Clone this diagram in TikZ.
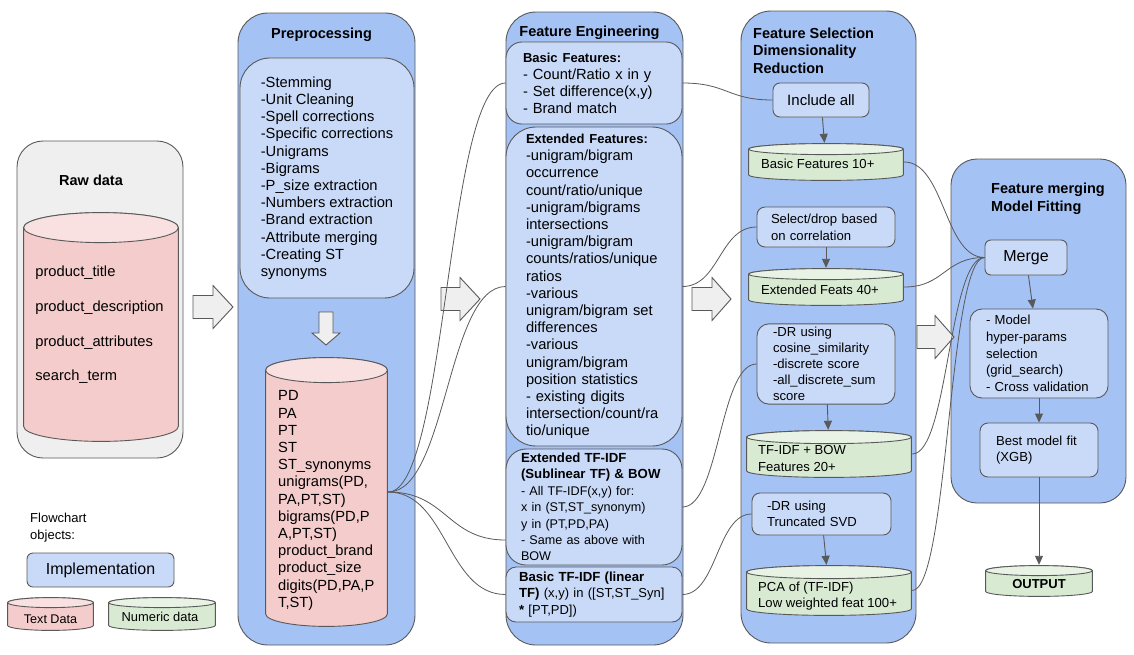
\documentclass[tikz,border=0pt]{standalone}
\usepackage{fontspec}
\setmainfont{Liberation Sans}
\usetikzlibrary{arrows.meta, calc}

\definecolor{panelblue}{HTML}{A4C2F4}
\definecolor{implblue}{HTML}{C9DAF8}
\definecolor{textred}{HTML}{F4CCCC}
\definecolor{textredtop}{HTML}{F9E1E1}
\definecolor{numgreen}{HTML}{D9EAD3}
\definecolor{numgreentop}{HTML}{E9F3E5}
\definecolor{rawgray}{HTML}{EFEFEF}
\definecolor{edgegray}{HTML}{595959}

% font sizes, 1pt = 1px of the picture
\newcommand{\fmain}{\fontsize{14.7}{17.2}\selectfont}
\newcommand{\fraw}{\fontsize{14.7}{34.6}\selectfont}
\newcommand{\fttl}{\fontsize{14.5}{17.5}\selectfont\bfseries}
\newcommand{\fhead}{\fontsize{13}{17.2}\selectfont\bfseries}
\newcommand{\fhdr}{\fontsize{13.2}{16.4}\selectfont\bfseries}
\newcommand{\fsmall}{\fontsize{13.1}{16.5}\selectfont}
\newcommand{\ftfidf}{\fontsize{12.6}{16.4}\selectfont}
\newcommand{\fbig}{\fontsize{16}{19}\selectfont}
\newcommand{\finc}{\fontsize{15}{18}\selectfont}
\newcommand{\flegend}{\fontsize{13}{17}\selectfont}
\newcommand{\ftiny}{\fontsize{12.6}{15}\selectfont}
\newcommand{\fout}{\fontsize{13}{16}\selectfont\bfseries}

\begin{document}
\begin{tikzpicture}[x=1pt, y=-1pt,
    panel/.style={rectangle, draw=edgegray, line width=0.9pt, fill=panelblue, rounded corners=28pt},
    impl/.style={rectangle, draw=edgegray, line width=0.9pt, fill=implblue, rounded corners=#1, align=left},
    impl/.default=8pt,
    title/.style={font=\fttl, inner sep=0pt, align=left},
    cyltext/.style={inner sep=0pt, align=left},
    hollow/.style={draw=edgegray, line width=0.9pt, fill=rawgray},
    conn/.style={draw=edgegray, line width=0.8pt, to path={let \p1=(\tikztostart), \p2=(\tikztotarget) in
        .. controls ({(\x1+\x2)/2},\y1) and ({(\x1+\x2)/2},\y2) .. (\tikztotarget)}},
    arrow/.style={-{Triangle[length=9pt, width=8pt]}, draw=edgegray, line width=0.9pt},
    cyl ry/.store in=\cylry, cyl body/.store in=\cylbody, cyl top/.store in=\cyltop,
    datacyl/.style={rectangle, inner sep=0pt, cyl ry=6pt,
        path picture={
            \draw[edgegray, line width=0.9pt, fill=\cylbody]
                let \p1=(path picture bounding box.north west), \p2=(path picture bounding box.south east),
                    \n1={(\x2-\x1)/2-0.6pt} in
                (\x1+0.6pt,\y1-\cylry-0.6pt) -- (\x1+0.6pt,\y2+\cylry+0.6pt)
                arc[start angle=180, end angle=360, x radius=\n1, y radius=\cylry]
                -- (\x2-0.6pt,\y1-\cylry-0.6pt)
                arc[start angle=0, end angle=180, x radius=\n1, y radius=\cylry] -- cycle;
            \draw[edgegray, line width=0.9pt, fill=\cyltop]
                let \p1=(path picture bounding box.north west), \p2=(path picture bounding box.south east),
                    \n1={(\x2-\x1)/2-0.6pt} in
                ({(\x1+\x2)/2},\y1-\cylry-0.6pt) ellipse [x radius=\n1, y radius=\cylry];
        }},
    textcyl/.style={datacyl, cyl body=textred, cyl top=textredtop},
    numcyl/.style={datacyl, cyl body=numgreen, cyl top=numgreentop},
]
\useasboundingbox (0,0) rectangle (1134,654);

% raw data
\node[panel, fill=rawgray, rounded corners=26pt, minimum width=166pt, minimum height=317pt] (rawp) at (100,299.5) {};
\node[title] (rawt) at (91,180) {Raw data};
\node[textcyl, cyl ry=15pt, minimum width=156pt, minimum height=230pt] (rawc) at (101,327) {};
\node[cyltext, font=\fraw] (rawct) at (99.5,325) {product\_title\\product\_description\\product\_attributes\\search\_term};

% preprocessing
\node[panel, rounded corners=30pt, minimum width=177pt, minimum height=632pt] (prep) at (326.5,329) {};
\node[title] (prept) at (321.5,35) {Preprocessing};
\node[impl=30pt, minimum width=174pt, minimum height=240pt, font=\fmain] (steps) at (327,178)
    {-Stemming\\-Unit Cleaning\\-Spell corrections\\-Specific corrections\\-Unigrams\\-Bigrams\\-P\_size extraction\\-Numbers extraction\\-Brand extraction\\-Attribute merging\\-Creating ST\\synonyms};
\node[textcyl, cyl ry=12.5pt, minimum width=123pt, minimum height=270pt] (prepc) at (326.5,492) {};
\node[cyltext, font=\fmain, anchor=west] (prepct) at (278,500.5)
    {PD\\PA\\PT\\ST\\ST\_synonyms\\unigrams(PD,\\PA,PT,ST)\\bigrams(PD,P\\A,PT,ST)\\product\_brand\\product\_size\\digits(PD,PA,P\\T,ST)};

% feature engineering
\node[panel, rounded corners=30pt, minimum width=177pt, minimum height=633pt] (feat) at (594.5,328.5) {};
\node[title] (featt) at (589.5,33) {Feature Engineering};
\node[impl=16pt, minimum width=176pt, minimum height=82pt, text width=142pt, inner xsep=17pt,
    font=\fontsize{14.7}{17}\selectfont] (bfe) at (594,83)
    {{\fhead Basic Features:}\\- Count/Ratio x in y\\- Set difference(x,y)\\- Brand match};
\node[impl=30pt, minimum width=176pt, minimum height=319pt, text width=136pt, inner xsep=20pt, font=\fmain] (efe) at (594,286.5)
    {{\fhead Extended Features:}\\-unigram/bigram\\occurrence\\count/ratio/unique\\-unigram/bigrams\\intersections\\-unigram/bigram\\counts/ratios/unique\\ratios\\-various\\unigram/bigram set\\differences\\-various\\unigram/bigram\\position statistics\\- existing digits\\intersection/count/ra\\tio/unique};
\node[impl=20pt, minimum width=176pt, minimum height=116pt, text width=146pt, inner xsep=15pt, font=\ftfidf] (etf) at (594,507)
    {{\fhdr Extended TF-IDF\\(Sublinear TF) \& BOW}\\- All TF-IDF(x,y) for:\\x in (ST,ST\_synonym)\\y in (PT,PD,PA)\\- Same as above with\\BOW};
\node[impl=10pt, minimum width=176pt, minimum height=55pt, text width=150pt, inner xsep=13pt, font=\fontsize{13}{16.5}\selectfont] (btf) at (594,594.5)
    {{\fhdr Basic TF-IDF (linear}\\{\fhdr TF)} (x,y) in ([ST,ST\_Syn]\\{\fhdr *} [PT,PD])};

% feature selection
\node[panel, rounded corners=30pt, minimum width=175pt, minimum height=632pt] (fsel) at (828.5,327) {};
\node[title, anchor=west] (fselt) at (753,50.5) {Feature Selection\\Dimensionality\\Reduction};
\node[impl=7pt, minimum width=96pt, minimum height=34pt, font=\finc, align=center] (incl) at (821,100) {Include all};
\node[numcyl, cyl ry=5.5pt, minimum width=156pt, minimum height=38pt] (bcyl) at (826,162) {};
\node[cyltext, font=\fsmall, anchor=west] (bcylt) at (761,164) {Basic Features 10+};
\node[impl=8pt, minimum width=138pt, minimum height=40pt, text width=110pt, inner xsep=14pt,
    font=\fontsize{13.1}{17}\selectfont] (sel) at (826,227) {Select/drop based\\on correlation};
\node[numcyl, cyl ry=5.5pt, minimum width=156pt, minimum height=38pt] (ecyl) at (826,287) {};
\node[cyltext, font=\fsmall, anchor=west] (ecylt) at (761,290) {Extended Feats 40+};
\node[impl=12pt, minimum width=138pt, minimum height=78pt, text width=106pt, inner xsep=16pt,
    font=\fontsize{13.1}{16}\selectfont] (drc) at (826,364)
    {-DR using\\cosine\_similarity\\-discrete score\\-all\_discrete\_sum\\score};
\node[numcyl, cyl ry=6.5pt, minimum width=166pt, minimum height=48pt] (tcyl) at (829,454) {};
\node[cyltext, font=\fontsize{13.1}{17}\selectfont, anchor=west] (tcylt) at (758,458.5) {TF-IDF + BOW\\Features 20+};
\node[impl=8pt, minimum width=139pt, minimum height=42pt, text width=109pt, inner xsep=15pt,
    font=\fontsize{13.1}{15.5}\selectfont] (svd) at (821.5,514) {-DR using\\Truncated SVD};
\node[numcyl, cyl ry=6.5pt, minimum width=166pt, minimum height=51pt] (pca) at (829,590.5) {};
\node[cyltext, font=\fontsize{13.1}{16}\selectfont, anchor=west] (pcat) at (758,596) {PCA of (TF-IDF)\\Low weighted feat 100+};

% merging and model fitting
\node[panel, rounded corners=26pt, minimum width=175pt, minimum height=344pt] (mfit) at (1038.5,331) {};
\node[title, anchor=west] (mfitt) at (991,199) {Feature merging\\Model Fitting};
\node[impl=6pt, minimum width=82pt, minimum height=35pt, font=\fbig, align=center] (merge) at (1026,257.5) {Merge};
\node[impl=12pt, minimum width=138pt, minimum height=89pt, text width=106pt, inner xsep=16pt,
    font=\fontsize{13.1}{16.7}\selectfont] (model) at (1039,353.5)
    {- Model\\hyper-params\\selection\\(grid\_search)\\- Cross validation};
\node[impl=8pt, minimum width=118pt, minimum height=54pt, text width=86pt, inner xsep=16pt,
    font=\fontsize{13.1}{16}\selectfont] (best) at (1039,450) {Best model fit\\(XGB)};
\node[numcyl, cyl ry=5pt, minimum width=108pt, minimum height=32pt] (out) at (1039,581) {};
\node[cyltext, font=\fout] (outt) at (1039,584) {OUTPUT};

% legend
\node[cyltext, font=\flegend, anchor=west] (legt) at (30,528) {Flowchart\\objects:};
\node[impl=6pt, minimum width=147pt, minimum height=34pt, font=\fbig, align=center] (legi) at (100.5,570) {Implementation};
\node[textcyl, cyl ry=5pt, minimum width=87pt, minimum height=34pt] (legtd) at (50.5,614) {};
\node[cyltext, font=\ftiny] (legtdt) at (50.5,619) {Text Data};
\node[numcyl, cyl ry=5pt, minimum width=108pt, minimum height=34pt] (legnd) at (162,614) {};
\node[cyltext, font=\fontsize{12.9}{15}\selectfont] (legndt) at (160,617) {Numeric data};

% hollow stage arrows
\draw[hollow] (193,295.5) -- ++(20,0) -- ++(0,-10) -- ++(20,21.5) -- ++(-20,21.5) -- ++(0,-10) -- ++(-20,0) -- cycle;
\draw[hollow] (441,287.5) -- ++(19,0) -- ++(0,-10) -- ++(20,21.5) -- ++(-20,21.5) -- ++(0,-10) -- ++(-19,0) -- cycle;
\draw[hollow] (692,287.5) -- ++(20,0) -- ++(0,-10) -- ++(19,21.5) -- ++(-19,21.5) -- ++(0,-10) -- ++(-20,0) -- cycle;
\draw[hollow] (917,325.5) -- ++(18,0) -- ++(0,-10) -- ++(19,21.5) -- ++(-19,21.5) -- ++(0,-10) -- ++(-18,0) -- cycle;
\draw[hollow] (319,312) -- ++(0,21) -- ++(-7,0) -- ++(14,12) -- ++(14,-12) -- ++(-7,0) -- ++(0,-21) -- cycle;

% curved connectors
\draw[conn] (prepc.east) to (bfe.west);
\draw[conn] (prepc.east) to (efe.west);
\draw[conn] (prepc.east) to ([yshift=-33pt]etf.west);
\draw[conn] (prepc.east) to (btf.west);
\draw[conn] (bfe.east) to (incl.west);
\draw[conn] (efe.east) to (sel.west);
\draw[conn] (etf.east) to (drc.west);
\draw[conn] (btf.east) to (svd.west);
\draw[conn] (bcyl.east) to (merge.west);
\draw[conn] (ecyl.east) to (merge.west);
\draw[conn] (tcyl.east) to (merge.west);
\draw[conn] (pca.east) to (merge.west);

% arrows
\draw[arrow] (incl) -- (bcyl);
\draw[arrow] (sel) -- (ecyl);
\draw[arrow] (drc) -- (tcyl);
\draw[arrow] (svd) -- (pca);
\draw[arrow] (merge) -- (model);
\draw[arrow] (model) -- (best);
\draw[arrow] (best) -- (out);
\end{tikzpicture}
\end{document}
